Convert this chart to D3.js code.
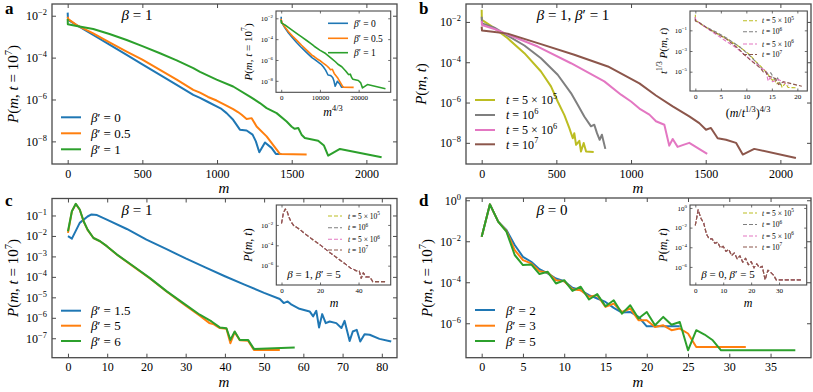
<!DOCTYPE html>
<html><head><meta charset="utf-8">
<script src="https://cdn.jsdelivr.net/npm/d3@7"></script>
<style>
body{margin:0;background:#fff}
svg{display:block;font-family:'Liberation Serif','DejaVu Serif',serif}
text{font-family:'Liberation Serif','DejaVu Serif',serif;fill:#000}
</style>
</head><body>
<svg id="fig" width="813" height="392"></svg>
<script>
// ---------------- DATA (values are log10 P) ----------------
// Panel a: beta = 1, t = 1e7, [m, log10 P]
const a_bp0 = [[0,-1.85],[2,-2.2],[60,-2.45],[171,-2.92],[280,-3.38],[395,-3.87],[500,-4.32],[618,-4.82],[730,-5.3],[841,-5.78],[886,-5.92],[940,-6.12],[997,-6.33],[1030,-6.45],[1064,-6.65],[1108,-6.97],[1130,-7.2],[1153,-7.44],[1198,-7.48],[1238,-7.68],[1260,-8.0],[1283,-8.52],[1321,-8.05],[1365,-8.31],[1394,-8.6],[1432,-8.6]];
const a_bp05 = [[0,-2.05],[4,-2.16],[60,-2.45],[171,-2.84],[280,-3.27],[395,-3.71],[500,-4.1],[618,-4.59],[730,-5.05],[841,-5.54],[886,-5.67],[940,-5.88],[997,-6.05],[1050,-6.25],[1108,-6.46],[1140,-6.6],[1165,-6.73],[1198,-6.93],[1232,-6.89],[1265,-7.29],[1332,-7.76],[1421,-8.6],[1600,-8.63]];
const a_bp1 = [[0,-2.16],[1,-2.41],[60,-2.49],[171,-2.63],[280,-2.87],[395,-3.16],[500,-3.45],[618,-3.79],[730,-4.13],[841,-4.5],[886,-4.68],[997,-5.05],[1108,-5.38],[1220,-5.86],[1287,-6.17],[1332,-6.41],[1399,-6.65],[1466,-7.05],[1500,-7.3],[1520,-7.4],[1544,-7.36],[1566,-7.68],[1588,-7.84],[1677,-7.97],[1716,-8.2],[1744,-8.68],[1823,-8.36],[2102,-8.76]];

// Panel b: beta = 1, beta' = 1, different t
const b_times = [5e5, 1e6, 5e6, 1e7];
const b_t5e5 = [[0,-1.4],[1,-1.9],[85,-2.31],[174,-2.81],[286,-3.55],[397,-4.46],[464,-5.2],[509,-5.95],[553,-6.61],[587,-7.27],[610,-7.77],[620,-7.52],[632,-8.1],[654,-7.9],[665,-8.43],[683,-8.01],[699,-8.43],[750,-8.46]];
const b_t1e6 = [[0,-1.74],[3,-2.07],[85,-2.28],[174,-2.68],[286,-3.17],[397,-3.8],[509,-4.62],[598,-5.53],[643,-6.11],[687,-6.69],[732,-7.18],[754,-7.1],[772,-7.52],[790,-7.85],[805,-7.6],[828,-8.3]];
const b_t5e6 = [[0,-1.95],[2,-2.15],[85,-2.35],[174,-2.62],[375,-3.22],[598,-4.05],[821,-4.95],[933,-5.61],[1000,-5.95],[1056,-6.3],[1123,-6.6],[1167,-6.93],[1223,-7.1],[1256,-8.14],[1279,-7.81],[1312,-8.2],[1350,-8.1],[1390,-8.0],[1510,-8.55]];
const b_t1e7 = [[0,-2.23],[2,-2.42],[60,-2.48],[174,-2.58],[397,-3.1],[620,-3.63],[845,-4.21],[1056,-5.05],[1167,-5.65],[1279,-6.19],[1390,-6.69],[1457,-7.02],[1502,-7.35],[1535,-7.26],[1580,-7.77],[1636,-7.85],[1703,-8.0],[1748,-8.58],[1825,-8.3],[2104,-8.75]];

// Panel c: beta = 1
const c_bp15 = [[0,-2.01],[1,-2.13],[3,-1.36],[5,-1.05],[6,-0.95],[7.4,-0.98],[9.9,-1.2],[15,-1.66],[20,-2.18],[25,-2.63],[30,-3.1],[35,-3.54],[40,-3.97],[45,-4.38],[50,-4.78],[54,-5.08],[55,-5.28],[56,-5.2],[57,-5.36],[59,-5.56],[61.6,-5.69],[62.5,-5.93],[63.3,-5.66],[64,-6.47],[64.8,-5.82],[65.7,-6.26],[66.7,-6.18],[68.4,-6.26],[69.7,-6.5],[70.5,-6.15],[71.8,-7.13],[72.6,-6.67],[73.6,-6.59],[74.5,-7.16],[75.6,-6.8],[76.9,-6.83],[79.4,-7.03],[82.4,-7.16]];
const c_bp5 = [[0,-1.85],[1,-0.8],[2,-0.44],[3,-0.72],[4,-1.3],[5,-1.7],[6.5,-2.1],[8.2,-2.27],[9.9,-2.5],[12.5,-2.92],[16.7,-3.5],[20.9,-4.08],[25.2,-4.73],[29.4,-5.32],[33.6,-5.9],[36,-6.25],[37,-6.3],[38.7,-6.5],[40.4,-6.53],[41.4,-7.24],[42.5,-6.7],[43.8,-7.1],[45.9,-7.12],[47.4,-7.57],[54,-7.57]];
const c_bp6 = [[0,-1.77],[1,-0.79],[2,-0.43],[3,-0.71],[4,-1.28],[5,-1.69],[6.5,-2.1],[8.2,-2.26],[9.9,-2.5],[12.5,-2.91],[16.7,-3.48],[20.9,-4.06],[25.2,-4.71],[29.4,-5.28],[33.6,-5.85],[36.6,-6.18],[38.7,-6.47],[40.4,-6.51],[41.4,-7.08],[42.5,-6.67],[43.8,-7.08],[45.9,-7.08],[47.4,-7.52],[57.8,-7.45]];

// Panel d: beta = 0, values for m = 0,1,2,...
const d_bp2 = [-1.78,-0.2,-1.04,-1.45,-2.18,-2.76,-3.0,-3.36,-3.57,-3.82,-3.95,-4.27,-4.39,-4.63,-4.79,-4.96,-5.25,-5.48,-5.45,-5.69,-6.15,-6.15,-6.15,-6.15,-6.15];
const d_bp3 = [-1.78,-0.2,-1.04,-1.5,-2.43,-2.92,-3.08,-3.46,-3.52,-3.9,-3.95,-4.34,-4.39,-4.71,-4.63,-5.2,-5.04,-5.45,-5.28,-5.85,-5.85,-6.18,-6.1,-6.34,-6.26,-6.5,-7.16,-7.16,-7.16,-7.16,-7.16,-7.16,-7.16];
const d_bp5 = [-1.78,-0.2,-1.04,-1.53,-2.67,-3.16,-3.13,-3.6,-3.49,-4.06,-3.9,-4.42,-4.22,-4.84,-4.58,-5.17,-4.88,-5.53,-5.12,-5.77,-5.45,-6.1,-5.69,-6.07,-5.94,-7.32,-6.34,-6.55,-6.83,-7.32,-7.32,-7.32,-7.32,-7.32,-7.32,-7.32,-7.32,-7.32,-7.32];

// Tick values
const ticksA_x = [0,500,1000,1500,2000], ticksA_y = [-2,-4,-6,-8];
const ticksC_x = [0,10,20,30,40,50,60,70,80], ticksC_y = [-1,-2,-3,-4,-5,-6,-7];
const ticksD_x = [0,5,10,15,20,25,30,35], ticksD_y = [0,-2,-4,-6];
const insA_x = [0,10000,20000], insA_y = [-2,-4,-6,-8];
const insB_x = [0,5,10,15,20], insB_y = [-1,-3,-5];
const insC_x = [0,20,40], insC_y = [-2,-4,-6];
const insD_x = [0,10,20,30], insD_y = [0,-2,-4,-6];

const COL = {blue:"#1f77b4", orange:"#ff7f0e", green:"#2ca02c", olive:"#bcbd22", gray:"#7f7f7f", pink:"#e377c2", brown:"#8c564b"};
const FRAME = "#4a4a4a";
const FONT = "'Liberation Serif','DejaVu Serif',serif";

// ---------------- HELPERS ----------------
const svg = d3.select("#fig");
let clipN = 0;
function expStr(e){ return (e<0?"\u2212":"") + Math.abs(e); }
function rich(t, parts, size){
  const raise = size*0.42; let up=false;
  t.style("font-family", FONT);
  parts.forEach(p=>{
    const [s,f] = typeof p==="string" ? [p,""] : [p[0], p[1]||""];
    const sp = f.includes("s");
    const ts = t.append("tspan").text(s)
      .style("font-family", FONT)
      .style("font-style", f.includes("i") ? "italic":"normal")
      .style("font-size", (sp? size*0.7 : size)+"px");
    if (sp && !up){ ts.attr("dy", -raise); up=true; }
    else if (!sp && up){ ts.attr("dy", raise); up=false; }
  });
  return t;
}
function label(x,y,parts,size,opts={}){
  const t = svg.append("text").attr("x",0).attr("y",0)
    .attr("text-anchor", opts.anchor||"middle")
    .attr("transform", `translate(${x},${y})` + (opts.rot? ` rotate(${opts.rot})`:""))
    .style("font-size", size+"px");
  if (opts.bold) t.style("font-weight","bold");
  rich(t, parts, size);
  return t;
}
const pow10 = v => Math.pow(10, v);

function drawPanel(p){
  const g = svg.append("g");
  if (p.inset) g.append("rect").attr("x",p.L).attr("y",p.T).attr("width",p.R-p.L).attr("height",p.B-p.T).attr("fill","#fff");
  const x = d3.scaleLinear().domain(p.xd).range([p.L,p.R]);
  const y = d3.scaleLog().domain([pow10(p.yd[0]), pow10(p.yd[1])]).range([p.B,p.T]);
  const cid = "clip"+(clipN++);
  g.append("clipPath").attr("id",cid).append("rect").attr("x",p.L).attr("y",p.T).attr("width",p.R-p.L).attr("height",p.B-p.T);
  const lg = g.append("g").attr("clip-path",`url(#${cid})`);
  p.series.forEach(s=>{
    const fx = s.fx || (d=>d[0]), fy = s.fy || (d=>d[1]);
    lg.append("path").datum(s.data)
      .attr("d", d3.line().x(d=>x(fx(d))).y(d=>y(pow10(fy(d)))))
      .attr("fill","none").attr("stroke",s.color).attr("stroke-width",s.w)
      .attr("stroke-dasharray", s.dash||null).attr("stroke-linejoin","round");
  });
  const tk=p.tk, fs=p.fs, pad=p.pad;
  const yv = p.yt.map(pow10);
  const gb = g.append("g").attr("transform",`translate(0,${p.B})`)
    .call(d3.axisBottom(x).tickValues(p.xt).tickSizeInner(-tk).tickSizeOuter(0).tickPadding(pad).tickFormat(d3.format("d")));
  const gt = g.append("g").attr("transform",`translate(0,${p.T})`)
    .call(d3.axisTop(x).tickValues(p.xt).tickSizeInner(-tk).tickSizeOuter(0).tickFormat(""));
  const gl = g.append("g").attr("transform",`translate(${p.L},0)`)
    .call(d3.axisLeft(y).tickValues(yv).tickSizeInner(-tk).tickSizeOuter(0).tickPadding(pad));
  const gr = g.append("g").attr("transform",`translate(${p.R},0)`)
    .call(d3.axisRight(y).tickValues(yv).tickSizeInner(-tk).tickSizeOuter(0).tickFormat(""));
  [gb,gt,gl,gr].forEach(a=>{
    a.select(".domain").remove();
    a.attr("font-family",null).attr("font-size",null);
    a.selectAll("line").attr("stroke",FRAME).attr("stroke-width",p.tw);
    a.selectAll("text").attr("fill","#000").style("font-size",fs+"px").style("font-family",FONT);
  });
  gl.selectAll(".tick text").each(function(d){
    const e = Math.round(Math.log10(d)); const t = d3.select(this); t.text(null);
    rich(t, ["10",[expStr(e),"s"]], fs);
  });
  g.append("rect").attr("x",p.L).attr("y",p.T).attr("width",p.R-p.L).attr("height",p.B-p.T)
    .attr("fill","none").attr("stroke",FRAME).attr("stroke-width",p.fw);
  if (p.legend){
    const Lg = p.legend;
    p.series.forEach((s,i)=>{
      const yy = Lg.y[i];
      g.append("line").attr("x1",Lg.x0).attr("x2",Lg.x1).attr("y1",yy).attr("y2",yy)
        .attr("stroke",s.color).attr("stroke-width",s.w).attr("stroke-dasharray",s.dash||null);
      const t = g.append("text").attr("x",Lg.tx).attr("y",yy).attr("dy","0.35em").style("font-size",Lg.fs+"px");
      rich(t, s.label, Lg.fs);
    });
  }
  return {x,y};
}

const bp = v => [["\u03b2","i"], "\u2032 = "+v];
const tl = (pre, e) => pre ? [["t","i"], " = "+pre+" \u00d7 10", [String(e),"s"]] : [["t","i"], " = 10", [String(e),"s"]];
const mainStyle = {tk:4, fs:12, pad:5, tw:1, fw:1.3};
const insStyle = {tk:2.5, fs:7, pad:3, tw:0.8, fw:1.1};
const W = 2, WI = 1.4, DASH = "4,2";

// ---------------- PANEL a ----------------
drawPanel(Object.assign({L:52,R:397,T:4,B:164, xd:[-105,2205], yd:[-9.08,-1.44], xt:ticksA_x, yt:ticksA_y,
  series:[
    {data:a_bp0, color:COL.blue, w:W, label:bp("0")},
    {data:a_bp05, color:COL.orange, w:W, label:bp("0.5")},
    {data:a_bp1, color:COL.green, w:W, label:bp("1")}],
  legend:{x0:61,x1:81,tx:91,y:[117.3,133.3,149.3],fs:13}}, mainStyle));
const m43 = d=>Math.pow(d[0],4/3);
drawPanel(Object.assign({inset:true, L:276,R:390.7,T:11,B:92.3, xd:[-1347,28277], yd:[-9.1,-1.3], xt:insA_x, yt:insA_y,
  series:[
    {data:a_bp0, color:COL.blue, w:WI+0.2, fx:m43, label:bp("0")},
    {data:a_bp05, color:COL.orange, w:WI+0.2, fx:m43, label:bp("0.5")},
    {data:a_bp1, color:COL.green, w:WI+0.2, fx:m43, label:bp("1")}],
  legend:{x0:328,x1:348,tx:354,y:[23.3,38.3,52.7],fs:9.5}}, insStyle));

// ---------------- PANEL b ----------------
const bSeries = [b_t5e5,b_t1e6,b_t5e6,b_t1e7];
const bCols = [COL.olive, COL.gray, COL.pink, COL.brown];
const bLabels = [tl("5",5), tl(null,6), tl("5",6), tl(null,7)];
drawPanel(Object.assign({L:466,R:811,T:4,B:164, xd:[-105,2205], yd:[-9.05,-1.11], xt:ticksA_x, yt:ticksA_y,
  series: bSeries.map((d,i)=>({data:d, color:bCols[i], w:W, label:bLabels[i]})),
  legend:{x0:475,x1:495,tx:506,y:[100,115,130,144.3],fs:12}}, mainStyle));
drawPanel(Object.assign({inset:true, L:690,R:807.3,T:11,B:91, xd:[-1.05,21.95], yd:[-6.87,0.87], xt:insB_x, yt:insB_y,
  series: bSeries.map((d,i)=>{ const c = Math.cbrt(b_times[i]);
    return {data:d, color:bCols[i], w:1.1, dash:DASH, label:bLabels[i],
      fx:q=>Math.pow(q[0]/c,4/3), fy:q=>q[1]+Math.log10(c)}; }),
  legend:{x0:743,x1:757,tx:762,y:[20.7,31.7,44,54.5],fs:7.5}}, insStyle));

// ---------------- PANEL c ----------------
drawPanel(Object.assign({L:52,R:397,T:198.5,B:357.7, xd:[-4.07,83.87], yd:[-7.95,-0.17], xt:ticksC_x, yt:ticksC_y,
  series:[
    {data:c_bp15, color:COL.blue, w:W, label:bp("1.5")},
    {data:c_bp5, color:COL.orange, w:W, label:bp("5")},
    {data:c_bp6, color:COL.green, w:W, label:bp("6")}],
  legend:{x0:61,x1:81,tx:91,y:[310.7,325.7,341],fs:13}}, mainStyle));
drawPanel(Object.assign({inset:true, L:276.3,R:390.7,T:205,B:285, xd:[-2.7,56.7], yd:[-7.9,-0.04], xt:insC_x, yt:insC_y,
  series: bCols.map((c,i)=>({data:c_bp5, color:c, w:1.1, dash:DASH, label:bLabels[i]})),
  legend:{x0:328,x1:342,tx:348,y:[216,227.7,239.3,250],fs:7.5}}, insStyle));

// ---------------- PANEL d ----------------
const idx = arr => arr.map((v,i)=>[i,v]);
drawPanel(Object.assign({L:466,R:811,T:198,B:357.7, xd:[-1.9,39.9], yd:[-7.68,0.11], xt:ticksD_x, yt:ticksD_y,
  series:[
    {data:idx(d_bp2), color:COL.blue, w:W, label:bp("2")},
    {data:idx(d_bp3), color:COL.orange, w:W, label:bp("3")},
    {data:idx(d_bp5), color:COL.green, w:W, label:bp("5")}],
  legend:{x0:475,x1:495,tx:506,y:[310,325.7,341],fs:13}}, mainStyle));
drawPanel(Object.assign({inset:true, L:690,R:806.7,T:205,B:285, xd:[-1.9,39.9], yd:[-7.84,0.3], xt:insD_x, yt:insD_y,
  series: bCols.map((c,i)=>({data:idx(d_bp5), color:c, w:1.1, dash:DASH, label:bLabels[i]})),
  legend:{x0:743,x1:757,tx:762,y:[213,224.5,236,247],fs:7.5}}, insStyle));

// ---------------- TEXT ----------------
label(5,14,["a"],17,{anchor:"start",bold:true});
label(419,14,["b"],17,{anchor:"start",bold:true});
label(5,206,["c"],17,{anchor:"start",bold:true});
label(419,206,["d"],17,{anchor:"start",bold:true});
const beq = v => [["\u03b2","i"], " = "+v];
label(137,20,beq("1"),15);
label(573,20,[["\u03b2","i"]," = 1, ",["\u03b2","i"],"\u2032 = 1"],15);
label(137,215,beq("1"),15);
label(552,215,beq("0"),15);
label(314,278,[["\u03b2","i"]," = 1, ",["\u03b2","i"],"\u2032 = 5"],11);
label(728,278,[["\u03b2","i"]," = 0, ",["\u03b2","i"],"\u2032 = 5"],11);
const pmt7 = [["P","i"],"(",["m","i"],", ",["t","i"]," = 10",["7","s"],")"];
const pmt = [["P","i"],"(",["m","i"],", ",["t","i"],")"];
label(18,84,pmt7,15,{rot:-90});
label(426,84,pmt,15,{rot:-90});
label(18,278,pmt7,15,{rot:-90});
label(432,278,pmt7,15,{rot:-90});
label(252,52,pmt7,11,{rot:-90});
label(667,51,[["t","i"],["1/3","s"]," ",["P","i"],"(",["m","i"],", ",["t","i"],")"],11,{rot:-90});
label(252,245,pmt,12,{rot:-90});
label(667,245,pmt,12,{rot:-90});
label(224,193,[["m","i"]],15);
label(638,193,[["m","i"]],15);
label(224,387,[["m","i"]],15);
label(638,387,[["m","i"]],15);
label(333,116,[["m","i"],["4/3","s"]],12);
label(748,117,["(",["m","i"],"/",["t","i"],["1/3","s"],")",["4/3","s"]],12);
label(334,307,[["m","i"]],12);
label(748,307,[["m","i"]],12);
</script>
</body></html>
